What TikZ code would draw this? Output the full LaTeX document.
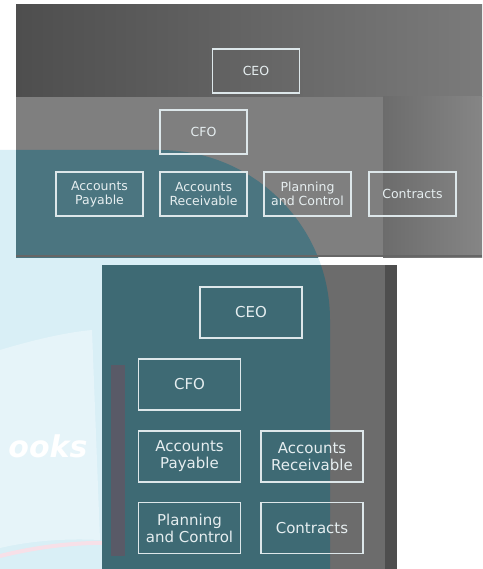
\documentclass[tikz,border=0pt]{standalone}
\usepackage{fontspec}
\setmainfont{DejaVu Sans}
\usepackage{xcolor}
\usetikzlibrary{positioning}
\definecolor{OCPale}{HTML}{D9EFF6}
\definecolor{OCTealTop}{HTML}{4B7580}
\definecolor{OCTealBot}{HTML}{3E6A74}
\definecolor{OCDark}{HTML}{4E4E4E}
\definecolor{OCMid}{HTML}{6C6C6C}
\definecolor{OCLight}{HTML}{7F7F7F}
\definecolor{OCLine}{HTML}{DDE7EA}
\definecolor{OCText}{HTML}{E6EEF0}
\definecolor{OCStripe}{HTML}{595A67}
\tikzset{
  ocbox/.style={
    rectangle,
    draw=OCLine,
    line width=1.1pt,
    text=OCText,
    align=center,
    inner sep=0pt,
    minimum width=87pt,
    minimum height=44pt,
    font=\fontsize{12.5}{13.5}\selectfont
  },
  ocboxlg/.style={ocbox,minimum width=102pt,minimum height=51pt,
    font=\fontsize{15}{17}\selectfont},
}

\begin{document}
\begin{tikzpicture}[x=1pt,y=-1pt]
  \useasboundingbox (0,0) rectangle (482,569);
  \fill[white] (0,0) rectangle (482,569);
  % pale watermark behind everything
  \fill[OCPale] (0,150) [rounded corners=170pt] -- (330,150)
    [sharp corners] -- (330,569) -- (0,569) -- cycle;
  \fill[white,opacity=0.35] (0,350) .. controls (40,338) and (70,332) .. (92,330)
    -- (100,540) .. controls (60,538) and (25,542) .. (0,548) -- cycle;
  \node[text=white,font=\fontsize{30}{30}\selectfont\bfseries\itshape] (mark)
    at (48,446) {ooks};
  \draw[draw=purple!12,line width=4pt] (0,556) .. controls (40,546) and (80,542) .. (112,543);

  % top panel
  \shade[left color=OCDark,right color=OCMid!90] (16,5) rectangle (482,97);
  \fill[OCLight] (16,97) rectangle (383,257);
  \shade[left color=OCMid,right color=OCLight!95] (383,97) rectangle (482,257);
  \begin{scope}
    \clip (16,5) rectangle (482,257);
    \fill[OCTealTop] (0,150) [rounded corners=170pt] -- (330,150)
      [sharp corners] -- (330,569) -- (0,569) -- cycle;
  \end{scope}
  \draw[black!60,line width=1.5pt] (16,256) -- (482,256);

  \node[ocbox] (ceo) at (256,71) {CEO};
  \node[ocbox] (cfo) at (203.5,132) {CFO};
  \node[ocbox] (ap) at (99.5,194) {Accounts\\Payable};
  \node[ocbox] (ar) at (203.5,194) {Accounts\\Receivable};
  \node[ocbox] (pc) at (307.5,194) {Planning\\and Control};
  \node[ocbox] (con) at (412.5,194) {Contracts};

  % bottom panel
  \fill[OCMid] (102,265) rectangle (397,569);
  \fill[OCDark] (385,265) rectangle (397,569);
  \begin{scope}
    \clip (102,265) rectangle (397,569);
    \fill[OCTealBot] (0,150) [rounded corners=170pt] -- (330,150)
      [sharp corners] -- (330,569) -- (0,569) -- cycle;
  \end{scope}
  \fill[OCStripe] (111,365) rectangle (125,556);

  \node[ocboxlg] (ceo2) at (251,312.5) {CEO};
  \node[ocboxlg] (cfo2) at (189.5,384.5) {CFO};
  \node[ocboxlg] (ap2) at (189.5,456.5) {Accounts\\Payable};
  \node[ocboxlg] (ar2) at (312,456.5) {Accounts\\Receivable};
  \node[ocboxlg] (pc2) at (189.5,528) {Planning\\and Control};
  \node[ocboxlg] (con2) at (312,528) {Contracts};
\end{tikzpicture}
\end{document}
